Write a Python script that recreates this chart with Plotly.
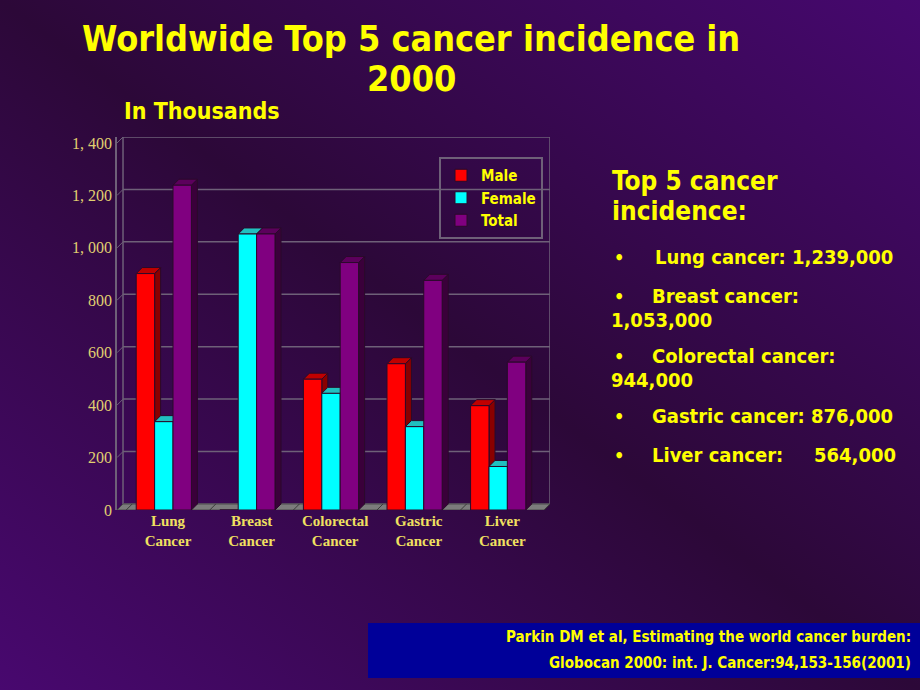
import base64
import plotly.graph_objects as go

# data (thousands of new cases, Globocan 2000)
categories = ["Lung<br>Cancer", "Breast<br>Cancer", "Colorectal<br>Cancer",
              "Gastric<br>Cancer", "Liver<br>Cancer"]
male = [902, 0, 499, 558, 398]
female = [337, 1053, 445, 318, 166]
total = [1239, 1053, 944, 876, 564]
y_ticks = [0, 200, 400, 600, 800, 1000, 1200, 1400]
y_ticktext = ["0", "200", "400", "600", "800", "1, 000", "1, 200", "1, 400"]

summary_head = ["Top 5 cancer", "incidence:"]
summary_lines = [
    ("Lung cancer: 1,239,000", None),
    ("Breast cancer:", "1,053,000"),
    ("Colorectal cancer:", "944,000"),
    ("Gastric cancer: 876,000", None),
    ("Liver cancer:", None),
]
liver_value = "564,000"
citation = ["Parkin DM et al, Estimating the world cancer burden:",
            "Globocan 2000: int. J. Cancer:94,153-156(2001)"]

# page geometry (pixels)
W, H = 920, 690
L, R, T, B = 117, 550, 137, 510
XR = [-0.56, 4.62]
DX, DY = 0.072, 23          # fake 3D depth in data units
YR = [0, 1400 + DY]

YELLOW = "#ffff00"
SANS = "DejaVu Sans Condensed, Liberation Sans, sans-serif"
SERIF = "Liberation Serif, Times New Roman, serif"


def px(x):
    return (x - L) / (R - L)


def py(y):
    return (B - y) / (B - T)


svg = f"""<svg xmlns='http://www.w3.org/2000/svg' width='{W}' height='{H}'>
<defs><linearGradient id='g' x1='0' y1='1' x2='1' y2='0'>
<stop offset='0' stop-color='#48086f'/><stop offset='0.5' stop-color='#2c0838'/>
<stop offset='1' stop-color='#46086f'/></linearGradient></defs>
<rect width='{W}' height='{H}' fill='url(#g)'/></svg>"""
bg_src = "data:image/svg+xml;base64," + base64.b64encode(svg.encode()).decode()

series = [
    ("Male", male, -0.33, "#ff0000", "#8a0000", "#c00000"),
    ("Female", female, -0.11, "#00ffff", "#008888", "#20c0c0"),
    ("Total", total, 0.11, "#800080", "#3a003a", "#5c005c"),
]
BW = 0.22

fig = go.Figure()
shapes = []
for name, vals, off, col, side, top in series:
    fig.add_trace(go.Bar(
        x=list(range(len(vals))), y=vals, name=name, width=BW, offset=off,
        marker=dict(color=col, line=dict(color="#2a0a2a", width=1)),
    ))
    for i, v in enumerate(vals):
        if not v:
            continue
        x0 = i + off
        x1 = x0 + BW
        shapes.append(dict(type="path", layer="between", xref="x", yref="y",
                           path=f"M {x1},0 L {x1 + DX},{DY} L {x1 + DX},{v + DY} L {x1},{v} Z",
                           fillcolor=side, line=dict(color="#2a0a2a", width=1)))
        shapes.append(dict(type="path", layer="between", xref="x", yref="y",
                           path=f"M {x0},{v} L {x0 + DX},{v + DY} L {x1 + DX},{v + DY} L {x1},{v} Z",
                           fillcolor=top, line=dict(color="#2a0a2a", width=1)))

# back wall, gridlines and floor
GRID = "#6e6078"
for v in y_ticks:
    shapes.append(dict(type="line", layer="below", xref="x", yref="y",
                       x0=XR[0] + DX, x1=XR[1], y0=v + DY, y1=v + DY,
                       line=dict(color=GRID, width=1.5)))
    shapes.append(dict(type="line", layer="below", xref="x", yref="y",
                       x0=XR[0], x1=XR[0] + DX, y0=v, y1=v + DY,
                       line=dict(color=GRID, width=1)))
shapes.append(dict(type="line", layer="below", xref="x", yref="y",
                   x0=XR[0] + DX, x1=XR[0] + DX, y0=DY, y1=1400 + DY,
                   line=dict(color=GRID, width=1.5)))
shapes.append(dict(type="line", layer="below", xref="x", yref="y",
                   x0=XR[1], x1=XR[1], y0=DY, y1=1400 + DY,
                   line=dict(color=GRID, width=1.5)))
shapes.append(dict(type="path", layer="below", xref="x", yref="y",
                   path=f"M {XR[0]},0 L {XR[1] - DX},0 L {XR[1]},{DY} L {XR[0] + DX},{DY} Z",
                   fillcolor="#7c7c7c", line=dict(color="#4a4a4a", width=1)))
for i in range(len(categories) + 1):
    xs = i - 0.5 + 0.05
    shapes.append(dict(type="line", layer="below", xref="x", yref="y",
                       x0=xs, x1=xs + DX, y0=0, y1=DY,
                       line=dict(color="#3a3a3a", width=1)))

# citation box
shapes.append(dict(type="rect", layer="below", xref="paper", yref="paper",
                   x0=px(368), x1=px(920), y0=py(678), y1=py(623),
                   fillcolor="#000099", line=dict(width=0)))

ann = []


def text(x, y, s, size, anchor="left", family=SANS, color=YELLOW):
    ann.append(dict(x=px(x), y=py(y), xref="paper", yref="paper", text=s,
                    showarrow=False, xanchor=anchor, yanchor="middle",
                    font=dict(family=family, size=size, color=color, weight="bold")))


text(411, 38, "Worldwide Top 5 cancer incidence in", 35.7, "center")
text(411, 79, "2000", 35.7, "center")
text(122, 111, "In Thousands", 23)
text(610, 181, summary_head[0], 26)
text(610, 211, summary_head[1], 26)

row_y = [257, 296, 356, 416, 455]
for (line, cont), y in zip(summary_lines, row_y):
    text(612, y, "•", 18)
    text(653 if y == 257 else 650, y, line, 20)
    if cont:
        text(609, y + 24, cont, 20)
text(812, 455, liver_value, 20)

text(913, 637, citation[0], 15, "right")
text(913, 663, citation[1], 15, "right")

fig.update_layout(
    width=W, height=H,
    margin=dict(l=L, r=W - R, t=T, b=H - B, pad=0),
    paper_bgcolor="#2c0838", plot_bgcolor="rgba(0,0,0,0)",
    barmode="overlay",
    shapes=shapes, annotations=ann,
    images=[dict(source=bg_src, xref="paper", yref="paper",
                 x=px(0), y=py(0), sizex=W / (R - L), sizey=H / (B - T),
                 xanchor="left", yanchor="top", sizing="stretch", layer="below")],
    legend=dict(x=px(439), y=py(157), xanchor="left", yanchor="top",
                bgcolor="rgba(0,0,0,0)", bordercolor=GRID, borderwidth=2,
                font=dict(family=SANS, size=15, color=YELLOW, weight="bold"),
                itemwidth=30, tracegroupgap=2),
    showlegend=True,
)
fig.update_xaxes(range=XR, tickvals=[i + 0.05 for i in range(len(categories))],
                 ticktext=categories, showgrid=False, zeroline=False, showline=False,
                 ticks="", tickfont=dict(family=SERIF, size=15, color="#f0e060", weight="bold"))
fig.update_yaxes(range=YR, tickvals=y_ticks, ticktext=y_ticktext, showgrid=False,
                 zeroline=False, showline=True, linecolor=GRID, linewidth=1.5,
                 ticks="", ticklabelstandoff=0,
                 tickfont=dict(family=SERIF, size=16, color="#e0d070"))

fig.write_html("out.html", config={"displayModeBar": False},
               post_script="document.body.style.margin='0px';")
